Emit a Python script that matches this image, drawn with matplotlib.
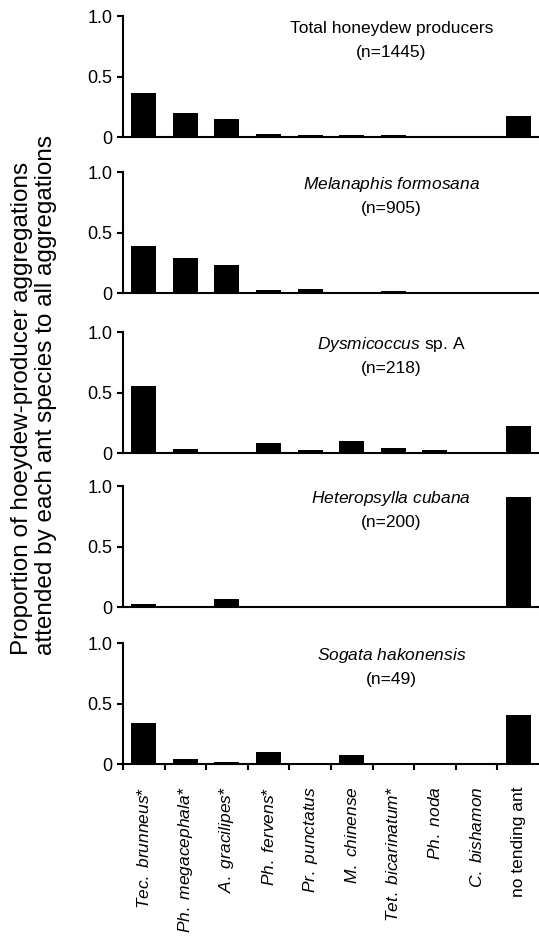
"""Proportion of honeydew-producer aggregations tended by each ant species (5 stacked bar panels)."""
import numpy as np
import matplotlib
matplotlib.use("Agg")
import matplotlib.pyplot as plt
from matplotlib.ticker import FixedLocator

plt.rcParams["font.family"] = ["Liberation Sans", "DejaVu Sans"]
plt.rcParams["mathtext.fontset"] = "custom"
plt.rcParams["mathtext.rm"] = "Liberation Sans"
plt.rcParams["mathtext.it"] = "Liberation Sans:italic"

# ant species (x categories)
species = [
    r"$\mathit{Tec.\ brunneus}$*",
    r"$\mathit{Ph.\ megacephala}$*",
    r"$\mathit{A.\ gracilipes}$*",
    r"$\mathit{Ph.\ fervens}$*",
    r"$\mathit{Pr.\ punctatus}$",
    r"$\mathit{M.\ chinense}$",
    r"$\mathit{Tet.\ bicarinatum}$*",
    r"$\mathit{Ph.\ noda}$",
    r"$\mathit{C.\ bishamon}$",
    "no tending ant",
]

# panel titles: (host name, sample size)
hosts = [
    "Total honeydew producers",
    r"$\mathit{Melanaphis\ formosana}$",
    r"$\mathit{Dysmicoccus}$ sp. A",
    r"$\mathit{Heteropsylla\ cubana}$",
    r"$\mathit{Sogata\ hakonensis}$",
]
sizes = [1445, 905, 218, 200, 49]

# proportions
total = [0.368, 0.203, 0.154, 0.030, 0.020, 0.016, 0.015, 0.0, 0.0, 0.179]
melanaphis = [0.395, 0.290, 0.237, 0.030, 0.033, 0.0, 0.020, 0.0, 0.0, 0.0]
dysmicoccus = [0.557, 0.030, 0.0, 0.082, 0.025, 0.096, 0.040, 0.025, 0.0, 0.224]
heteropsylla = [0.025, 0.0, 0.069, 0.0, 0.0, 0.0, 0.0, 0.0, 0.0, 0.910]
sogata = [0.343, 0.040, 0.020, 0.100, 0.0, 0.078, 0.0, 0.0, 0.0, 0.407]
panels = [total, melanaphis, dysmicoccus, heteropsylla, sogata]

fig = plt.figure(figsize=(5.39, 9.40), dpi=100)

# axes rects (left, bottom, width, height) in figure fraction
bottoms = [0.854, 0.688, 0.518, 0.354, 0.187]
height = 0.1285
left, width = 0.228, 0.772

x = np.arange(len(species))
for i, (vals, host, n) in enumerate(zip(panels, hosts, sizes)):
    ax = fig.add_axes([left, bottoms[i], width, height])
    ax.bar(x, vals, width=0.6, color="black")
    ax.set_xlim(-0.5, len(species) - 0.5)
    ax.set_ylim(0, 1.0)
    ax.set_yticks([0, 0.5, 1.0])
    ax.set_yticklabels(["0", "0.5", "1.0"], fontsize=13)
    for side in ("top", "right"):
        ax.spines[side].set_visible(False)
    for side in ("left", "bottom"):
        ax.spines[side].set_linewidth(1.5)
    ax.tick_params(axis="y", direction="out", length=4.5, width=1.5, pad=3)
    ax.text(0.645, 0.90, host, transform=ax.transAxes, ha="center",
            va="center", fontsize=12.5)
    ax.text(0.645, 0.70, f"(n={n})", transform=ax.transAxes, ha="center",
            va="center", fontsize=12.5)
    if i < len(panels) - 1:
        ax.set_xticks([])
    else:
        ax.set_xticks(x)
        ax.set_xticklabels(species, rotation=90, fontsize=12.5, va="top", ha="center")
        ax.xaxis.set_minor_locator(FixedLocator(np.arange(-0.5, len(species) - 1, 1.0)))
        ax.tick_params(axis="x", which="major", length=0, pad=16)
        ax.tick_params(axis="x", which="minor", direction="out", length=4.5, width=1.5)

fig.text(0.063, 0.303,
         "Proportion of hoeydew-producer aggregations\nattended by each ant species to all aggregations",
         rotation=90, ha="center", va="bottom", fontsize=17.5, linespacing=1.1,
         multialignment="left")

fig.savefig("out.png", dpi=100)
